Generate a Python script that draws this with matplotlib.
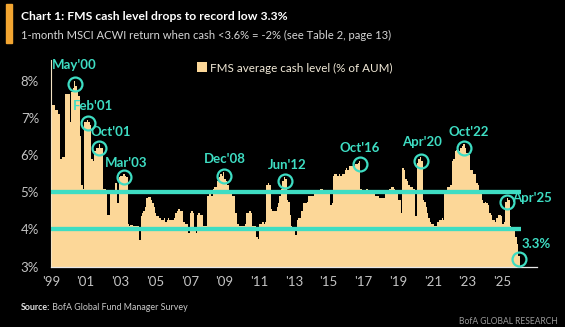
import matplotlib
matplotlib.use("Agg")
import matplotlib.pyplot as plt
from matplotlib.patches import Rectangle
import numpy as np

# FMS average cash level (% of AUM), monthly, Jan of each year to Dec
cash_1999 = [7.35, 7.35, 7.35, 7.2, 7.2, 7.1, 5.9, 5.9, 5.95, 5.95, 7.65, 7.65]
cash_2000 = [7.65, 6.9, 7.7, 7.8, 8.0, 7.85, 7.7, 7.6, 6.5, 5.2, 5.1, 6.9]
cash_2001 = [6.9, 6.95, 6.9, 6.8, 5.9, 5.85, 6.1, 6.2, 6.2, 6.3, 6.2, 6.2]
cash_2002 = [5.1, 5.1, 5.05, 4.4, 4.4, 4.95, 4.95, 5.0, 5.25, 5.25, 4.7, 5.4]
cash_2003 = [5.45, 5.45, 5.5, 5.45, 5.4, 4.15, 4.1, 4.12, 4.12, 4.1, 4.1, 4.1]
cash_2004 = [4.1, 3.72, 4.35, 4.45, 4.5, 4.6, 4.85, 4.88, 4.88, 4.8, 4.7, 4.6]
cash_2005 = [4.45, 4.35, 4.35, 4.3, 4.25, 4.25, 4.3, 4.2, 4.25, 4.3, 4.25, 4.25]
cash_2006 = [4.25, 4.3, 4.45, 4.5, 4.55, 4.5, 4.5, 4.2, 4.2, 4.15, 4.15, 3.9]
cash_2007 = [4.45, 4.5, 4.45, 4.0, 3.9, 4.4, 4.45, 4.4, 4.4, 4.1, 4.1, 4.1]
cash_2008 = [4.9, 4.95, 4.95, 4.9, 5.1, 5.15, 5.15, 5.3, 5.4, 5.5, 5.45, 5.55]
cash_2009 = [5.35, 5.3, 5.2, 4.95, 4.95, 4.9, 4.9, 4.45, 4.45, 4.15, 4.1, 4.1]
cash_2010 = [4.1, 4.1, 4.15, 4.45, 4.45, 4.5, 4.45, 4.1, 4.1, 4.1, 3.8, 3.75]
cash_2011 = [4.15, 4.15, 4.2, 4.15, 4.2, 5.2, 5.25, 5.2, 4.55, 4.5, 4.5, 4.5]
cash_2012 = [4.6, 4.7, 4.9, 5.1, 5.3, 5.4, 5.35, 4.8, 4.75, 4.4, 4.1, 4.0]
cash_2013 = [3.95, 3.85, 4.25, 4.3, 4.3, 4.5, 4.7, 4.7, 4.7, 4.75, 4.9, 4.9]
cash_2014 = [4.9, 4.9, 4.95, 5.0, 5.0, 5.0, 5.1, 5.1, 5.0, 4.95, 4.95, 4.95]
cash_2015 = [4.95, 4.65, 4.7, 5.45, 5.5, 5.5, 5.45, 5.5, 5.45, 5.5, 5.5, 5.6]
cash_2016 = [5.65, 5.6, 5.7, 5.7, 5.7, 5.7, 5.75, 5.75, 5.8, 5.85, 5.1, 5.05]
cash_2017 = [5.05, 5.05, 5.1, 5.05, 5.05, 5.0, 5.0, 5.0, 4.9, 4.9, 4.9, 4.85]
cash_2018 = [4.85, 4.85, 4.85, 4.95, 5.0, 5.0, 5.1, 5.15, 5.15, 5.1, 5.0, 5.0]
cash_2019 = [4.8, 4.8, 4.45, 5.65, 5.6, 5.35, 5.3, 5.2, 5.15, 5.15, 5.1, 5.1]
cash_2020 = [4.35, 5.8, 5.9, 5.95, 5.85, 4.8, 4.75, 4.6, 4.45, 4.3, 4.2, 4.15]
cash_2021 = [4.15, 4.1, 4.1, 4.2, 4.25, 4.25, 4.3, 4.25, 4.95, 5.0, 5.15, 5.15]
cash_2022 = [5.2, 5.85, 5.9, 6.1, 6.15, 6.15, 6.1, 6.2, 6.25, 6.3, 6.2, 6.05]
cash_2023 = [6.05, 6.0, 5.6, 5.6, 5.5, 5.5, 5.25, 5.2, 5.0, 4.95, 4.8, 4.7]
cash_2024 = [4.75, 4.7, 4.65, 4.45, 4.4, 4.25, 4.25, 4.2, 4.3, 4.4, 4.4, 4.35]
cash_2025 = [4.15, 4.2, 4.75, 4.85, 4.8, 4.1, 4.05, 4.0, 3.95, 3.8, 3.6, 3.3]

# highlighted months (label, year, month)
callouts = [("May'00", 2000, 5), ("Feb'01", 2001, 2), ("Oct'01", 2001, 10),
            ("Mar'03", 2003, 3), ("Dec'08", 2008, 12), ("Jun'12", 2012, 6),
            ("Oct'16", 2016, 10), ("Apr'20", 2020, 4), ("Oct'22", 2022, 10),
            ("Apr'25", 2025, 4), ("3.3%", 2025, 12)]
# label offset from circle, in points
callout_offsets = [(-0.7, 13.7), (3.8, 12.7), (8.1, 11.2), (1.9, 10.3), (1.0, 12.0),
                   (2.2, 11.5), (0.0, 12.0), (1.4, 13.2), (3.4, 11.5), (18.0, 2.4),
                   (12.2, 11.2)]

ref_lines = [5, 4]
yticks = [3, 4, 5, 6, 7, 8]
xtick_years = list(range(1999, 2026, 2))

cash = np.array(cash_1999 + cash_2000 + cash_2001 + cash_2002 + cash_2003 + cash_2004 +
                cash_2005 + cash_2006 + cash_2007 + cash_2008 + cash_2009 + cash_2010 +
                cash_2011 + cash_2012 + cash_2013 + cash_2014 + cash_2015 + cash_2016 +
                cash_2017 + cash_2018 + cash_2019 + cash_2020 + cash_2021 + cash_2022 +
                cash_2023 + cash_2024 + cash_2025)
edges = 1999 + np.arange(len(cash) + 1) / 12

plt.rcParams['font.family'] = ['Lato', 'DejaVu Sans']

BAR = '#FCD798'
TEAL = '#3EDDC3'
GREY = '#C4C4C4'

fig = plt.figure(figsize=(5.65, 3.27), dpi=100, facecolor='black')
W, H = 565, 327
ax = fig.add_axes([50.85 / W, (H - 266.7) / H, (537 - 50.85) / W, 206.7 / H])
ax.set_facecolor('black')

ax.stairs(cash, edges, baseline=0, fill=True, color=BAR, lw=0,
          label='FMS average cash level (% of AUM)')
ax.hlines(ref_lines, edges[0], edges[-1] + 0.08, colors=TEAL, lw=3.1, zorder=3)

for (lab, yr, mo), off in zip(callouts, callout_offsets):
    i = (yr - 1999) * 12 + mo - 1
    cx = edges[i] + 1 / 24
    cy = cash[i] - 0.1
    ax.plot(cx, cy, 'o', mfc='none', mec=TEAL, ms=10, mew=1.6, zorder=4, clip_on=False)
    ax.annotate(lab, (cx, cy), xytext=off, textcoords='offset points', ha='center',
                va='center', color=TEAL, fontsize=9.5, fontweight='bold', annotation_clip=False)

ax.set_xlim(1999, 2027)
ax.set_ylim(3, 8.556)
ax.set_yticks(yticks)
ax.set_yticklabels([f'{v}%' for v in yticks])
ax.set_xticks(xtick_years)
ax.set_xticklabels(["'" + str(y)[2:] for y in xtick_years])
ax.tick_params(axis='both', length=0, colors=GREY, labelsize=9.5)
ax.tick_params(axis='y', pad=8.5)
ax.tick_params(axis='x', pad=7)
for s in ['top', 'right']:
    ax.spines[s].set_visible(False)
ax.spines['left'].set_color('#F3E3C3')
ax.spines['left'].set_linewidth(0.8)
ax.spines['bottom'].set_color('#E8E8E8')
ax.spines['bottom'].set_linewidth(0.9)

leg = ax.legend(loc='center left', bbox_to_anchor=(197 / W, 1 - 68 / H),
                bbox_transform=fig.transFigure, frameon=False, borderpad=0,
                borderaxespad=0, handlelength=0.75, handleheight=0.75,
                handletextpad=0.25, fontsize=9.5, labelcolor='#F2EAD8')

# header / footer
fig.patches.append(Rectangle((6 / W, 1 - 43 / H), 6 / W, 39 / H, color='#F2A531',
                             transform=fig.transFigure, figure=fig))
title = fig.text(21 / W, 1 - 16 / H, 'Chart 1: FMS cash level drops to record low 3.3%',
                 color='white', fontsize=9.5, fontweight='bold', va='center')
sub = fig.text(21 / W, 1 - 35 / H,
               '1-month MSCI ACWI return when cash <3.6% = -2% (see Table 2, page 13)',
               color='#D6D6D6', fontsize=9.5, va='center')
foot = fig.text(558 / W, 1 - 322 / H, 'BofA GLOBAL RESEARCH', color='#9A9A9A', fontsize=6.8,
                va='center', ha='right')


# shrink/grow text to the widths seen in the picture
def fit(t, px):
    fig.canvas.draw()
    w = t.get_window_extent().width
    t.set_fontsize(t.get_fontsize() * px / w)


fit(title, 268)
fit(sub, 372)
fit(leg.get_texts()[0], 182)
fit(foot, 100)

# source line: bold "Source:" then plain text, whole line ~167 px wide
src_size = 7.0
src = fig.text(21 / W, 1 - 308 / H, 'Source:', color='#E0E0E0', fontsize=src_size,
               fontweight='bold', va='center')
src2 = fig.text(60 / W, 1 - 308 / H, ' BofA Global Fund Manager Survey',
                color='#C8C8C8', fontsize=src_size, va='center')
fig.canvas.draw()
total = src.get_window_extent().width + src2.get_window_extent().width
src_size *= 167 / total
src.set_fontsize(src_size)
src2.set_fontsize(src_size)
fig.canvas.draw()
src2.set_x(src.get_window_extent().x1 / fig.bbox.width)

fig.savefig('out.png', dpi=100, facecolor='black')
